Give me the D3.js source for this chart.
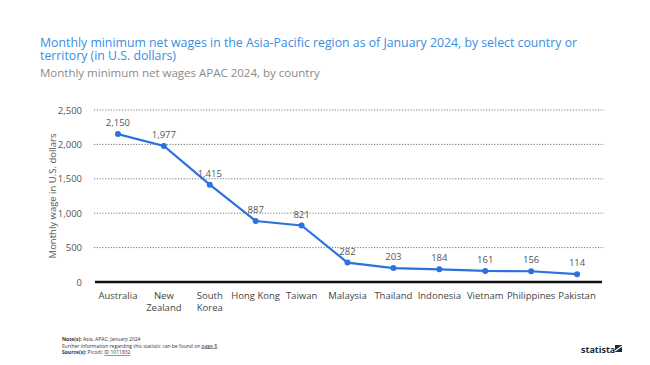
<!DOCTYPE html>
<html>
<head>
<meta charset="utf-8">
<script src="https://cdn.jsdelivr.net/npm/d3@7"></script>
<style>
  body { margin: 0; background: #fff; }
  text { font-family: "Open Sans", sans-serif; }
</style>
</head>
<body>
<script>
// data
var countries = ["Australia", "New Zealand", "South Korea", "Hong Kong", "Taiwan", "Malaysia",
                 "Thailand", "Indonesia", "Vietnam", "Philippines", "Pakistan"]
var wages = [2150, 1977, 1415, 887, 821, 282, 203, 184, 161, 156, 114]
var yTicks = [0, 500, 1000, 1500, 2000, 2500]

var width = 650, height = 365
var margin = {left: 95, right: 50, top: 110, bottom: 83}

var svg = d3.select("body").append("svg")
  .attr("width", width)
  .attr("height", height)

// title (two lines in one text element)
var title = svg.append("text")
  .attr("x", 40).attr("y", 47)
  .attr("fill", "#3b8ee0")
  .style("font-size", "12.3px")
title.append("tspan").attr("x", 40)
  .text("Monthly minimum net wages in the Asia-Pacific region as of January 2024, by select country or")
title.append("tspan").attr("x", 40).attr("dy", 12.5)
  .text("territory (in U.S. dollars)")
svg.append("text")
  .attr("x", 40).attr("y", 77)
  .attr("fill", "#8a8a8a")
  .style("font-size", "11.5px")
  .text("Monthly minimum net wages APAC 2024, by country")

var x = d3.scalePoint()
  .domain(countries)
  .range([margin.left, width - margin.right])
  .padding(0.5)

var y = d3.scaleLinear()
  .domain([0, 2500])
  .range([height - margin.bottom, margin.top])

// gridlines
svg.append("g").selectAll("line")
  .data(yTicks.filter(function(d) { return d > 0 }))
  .enter().append("line")
  .attr("x1", margin.left - 1)
  .attr("x2", width - margin.right + 4)
  .attr("y1", function(d) { return y(d) })
  .attr("y2", function(d) { return y(d) })
  .attr("stroke", "#555")
  .attr("stroke-width", 0.8)
  .attr("stroke-dasharray", "1.2,1.6")

// y axis labels
var yAxis = svg.append("g")
  .attr("transform", "translate(" + (margin.left - 10) + ",0)")
  .call(d3.axisLeft(y).tickValues(yTicks).tickSize(0).tickFormat(d3.format(",")))
yAxis.select(".domain").remove()
yAxis.selectAll("text")
  .attr("fill", "#555")
  .style("font-size", "9.5px")
  .style("font-family", "Open Sans, sans-serif")

svg.append("text")
  .attr("transform", "translate(56," + y(1250) + ") rotate(-90)")
  .attr("text-anchor", "middle")
  .attr("fill", "#555")
  .style("font-size", "9.5px")
  .text("Monthly wage in U.S. dollars")

// baseline
svg.append("line")
  .attr("x1", margin.left)
  .attr("x2", width - margin.right + 2)
  .attr("y1", y(0))
  .attr("y2", y(0))
  .attr("stroke", "#111")
  .attr("stroke-width", 2.5)

// x axis labels (wrapped)
var xl = svg.append("g").selectAll("text")
  .data(countries)
  .enter().append("text")
  .attr("x", function(d) { return x(d) })
  .attr("y", y(0) + 17)
  .attr("text-anchor", "middle")
  .attr("fill", "#444")
  .style("font-size", "9.5px")
xl.each(function(d) {
  var words = (d === "New Zealand" || d === "South Korea") ? d.split(" ") : [d]
  var t = d3.select(this)
  words.forEach(function(w, i) {
    t.append("tspan").attr("x", x(d)).attr("dy", i ? 12 : 0).text(w)
  })
})

// line
var line = d3.line()
  .x(function(d, i) { return x(countries[i]) })
  .y(function(d) { return y(d) })

svg.append("path")
  .datum(wages)
  .attr("fill", "none")
  .attr("stroke", "#2a72de")
  .attr("stroke-width", 2.2)
  .attr("d", line)

svg.append("g").selectAll("circle")
  .data(wages)
  .enter().append("circle")
  .attr("cx", function(d, i) { return x(countries[i]) })
  .attr("cy", function(d) { return y(d) })
  .attr("r", 3)
  .attr("fill", "#2a72de")

svg.append("g").selectAll("text")
  .data(wages)
  .enter().append("text")
  .attr("x", function(d, i) { return x(countries[i]) })
  .attr("y", function(d) { return y(d) - 8 })
  .attr("text-anchor", "middle")
  .attr("fill", "#555")
  .style("font-size", "9.5px")
  .text(d3.format(","))

// footer
var foot = svg.append("g").style("font-size", "5px").attr("fill", "#333")
foot.append("text").attr("x", 62).attr("y", 341)
  .html('<tspan font-weight="bold">Note(s):</tspan> Asia, APAC; January 2024')
foot.append("text").attr("x", 62).attr("y", 347.5)
  .html('Further information regarding this statistic can be found on <tspan text-decoration="underline">page 8</tspan>.')
foot.append("text").attr("x", 62).attr("y", 354)
  .html('<tspan font-weight="bold">Source(s):</tspan> Picodi; <tspan text-decoration="underline">ID 1011832</tspan>')

// logo
svg.append("text")
  .attr("x", 581).attr("y", 353)
  .attr("fill", "#1a2a3a")
  .style("font-size", "9px")
  .style("font-weight", "bold")
  .text("statista")
svg.append("path")
  .attr("d", "M615,345 L622,345 L622,352 L615,352 Z")
  .attr("fill", "#1a2a3a")
svg.append("path")
  .attr("d", "M615,351 L622,346")
  .attr("stroke", "#fff")
  .attr("stroke-width", 1.2)
</script>
</body>
</html>
